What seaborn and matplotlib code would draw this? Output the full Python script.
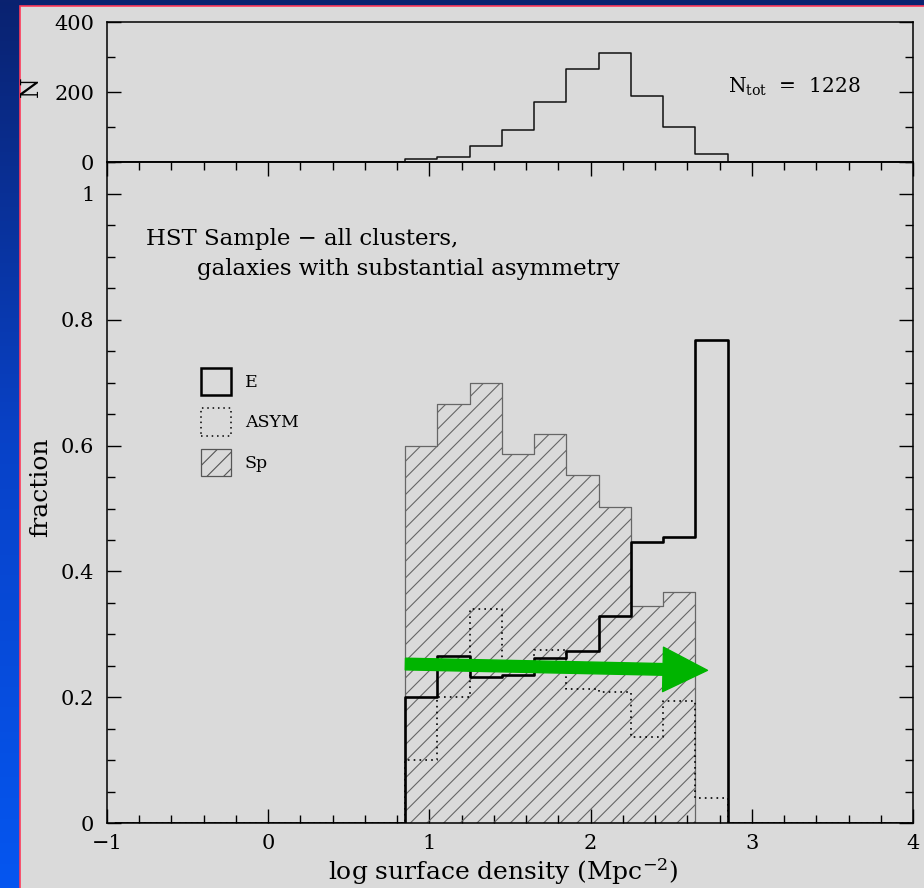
import numpy as np
import pandas as pd
import matplotlib
matplotlib.use("Agg")
import matplotlib.pyplot as plt
import seaborn as sns
from matplotlib.colors import LinearSegmentedColormap
from matplotlib.patches import Rectangle, Patch
from matplotlib.ticker import MultipleLocator, FuncFormatter

# bin centres of log surface density (bins 0.2 dex wide, 0.85 .. 2.85)
log_density = [0.95, 1.15, 1.35, 1.55, 1.75, 1.95, 2.15, 2.35, 2.55, 2.75]
n_gal = [9, 15, 47, 91, 172, 266, 313, 188, 102, 25]
frac_e = [0.200, 0.265, 0.233, 0.235, 0.262, 0.274, 0.330, 0.447, 0.455, 0.768]
frac_asym = [0.100, 0.200, 0.340, 0.255, 0.275, 0.214, 0.208, 0.137, 0.194, 0.040]
frac_sp = [0.600, 0.666, 0.700, 0.587, 0.618, 0.554, 0.502, 0.345, 0.368, 0.000]
n_tot = 1228

sns.set_theme(style="ticks")
plt.rcParams["font.family"] = ["DejaVu Serif", "DejaVu Sans"]
plt.rcParams["mathtext.fontset"] = "dejavuserif"
plt.rcParams["hatch.linewidth"] = 0.8
plt.rcParams["hatch.color"] = "#444444"
for k in ("text.color", "axes.labelcolor", "xtick.color", "ytick.color"):
    plt.rcParams[k] = "black"

df = pd.DataFrame({"logd": log_density, "N": n_gal, "E": frac_e,
                   "ASYM": frac_asym, "Sp": frac_sp})
edges = [round(v, 2) for v in np.arange(-0.95, 4.06, 0.2)]

W, H = 924, 888
fig = plt.figure(figsize=(W / 100, H / 100), dpi=100)

# slide background: blue gradient + grey panel with red rim
bg = fig.add_axes([0, 0, 1, 1], zorder=-10)
cmap = LinearSegmentedColormap.from_list("bg", ["#0a2270", "#0842c8", "#0556f0"])
bg.imshow(np.linspace(0, 1, 256)[:, None], aspect="auto", cmap=cmap,
          extent=[0, 1, 0, 1], origin="upper")
bg.add_patch(Rectangle((20 / W, -0.01), 1, 1 - 6 / H + 0.01, transform=bg.transAxes,
                       facecolor="#dadada", edgecolor="#ff3a5a", lw=1.2))
bg.set_xlim(0, 1)
bg.set_ylim(0, 1)
bg.axis("off")

left, right = 107 / W, 913 / W
y_mid = 1 - 162.3 / H
ax_top = fig.add_axes([left, y_mid, right - left, (162.3 - 22) / H])
ax = fig.add_axes([left, 1 - 823.3 / H, right - left, (823.3 - 162.3) / H])
for a in (ax_top, ax):
    a.set_facecolor("none")
    for s in a.spines.values():
        s.set_linewidth(1.1)
        s.set_color("black")

# top: number of galaxies
sns.histplot(data=df, x="logd", weights="N", bins=edges, element="step",
             fill=False, color="#111111", linewidth=1.1, ax=ax_top)
ax_top.set_xlim(-1, 4)
ax_top.set_ylim(0, 400)
ax_top.yaxis.set_major_locator(MultipleLocator(200))
ax_top.yaxis.set_minor_locator(MultipleLocator(100))
ax_top.tick_params(axis="x", which="both", bottom=False, top=False, labelbottom=False)
ax_top.tick_params(axis="y", which="both", direction="in", left=True, right=True,
                   width=1, labelsize=15, pad=9)
ax_top.tick_params(axis="y", which="major", length=10)
ax_top.tick_params(axis="y", which="minor", length=5.5)
ax_top.set_xlabel("")
ax_top.set_ylabel("N", fontsize=17)
ax_top.yaxis.set_label_coords(-0.079, 0.54)
ax_top.text(2.85, 215, r"N$_{\rm tot}$  =  " + str(n_tot), fontsize=14.5, va="center")

# bottom: morphological fractions
sns.histplot(data=df, x="logd", weights="Sp", bins=edges, element="step",
             fill=True, color="#666666", facecolor="none", hatch="//",
             linewidth=0.9, ax=ax)
sns.histplot(data=df, x="logd", weights="ASYM", bins=edges, element="step",
             fill=False, color="black", linewidth=1.2, linestyle=(0, (1, 2.5)), ax=ax)
sns.histplot(data=df, x="logd", weights="E", bins=edges, element="step",
             fill=False, color="black", linewidth=1.9, ax=ax)

ax.annotate("", xy=(2.725, 0.243), xytext=(0.851, 0.253),
            arrowprops=dict(arrowstyle="simple,head_length=32,head_width=32,tail_width=8.4",
                            mutation_scale=1, color="#00b400", shrinkA=0, shrinkB=0),
            zorder=10)

ax.set_xlim(-1, 4)
ax.set_ylim(0, 1.05)
ax.xaxis.set_major_locator(MultipleLocator(1))
ax.xaxis.set_minor_locator(MultipleLocator(0.2))
ax.yaxis.set_major_locator(MultipleLocator(0.2))
ax.yaxis.set_minor_locator(MultipleLocator(0.05))
fmt = FuncFormatter(lambda v, p: f"{v:g}".replace("-", "\u2212"))
ax.xaxis.set_major_formatter(fmt)
ax.yaxis.set_major_formatter(fmt)
ax.tick_params(which="both", direction="in", top=True, right=True, width=1,
               labelsize=15)
ax.tick_params(which="major", length=10)
ax.tick_params(which="minor", length=5.5)
ax.tick_params(axis="x", pad=8)
ax.tick_params(axis="y", pad=9)

ax.set_xlabel(r"log surface density (Mpc$^{-2}$)", fontsize=18)
ax.xaxis.set_label_coords(0.491, -0.05)
ax.set_ylabel("fraction", fontsize=18)
ax.yaxis.set_label_coords(-0.068, 0.509)

ax.text(-0.76, 0.928, "HST Sample \u2212 all clusters,", fontsize=16.5, va="center")
ax.text(-0.44, 0.881, "galaxies with substantial asymmetry", fontsize=16.5, va="center")

handles = [
    Patch(facecolor="none", edgecolor="black", linewidth=1.8, label="E"),
    Patch(facecolor="none", edgecolor="black", linewidth=1.1, linestyle=(0, (1, 2.5)),
          label="ASYM"),
    Patch(facecolor="none", edgecolor="#555555", linewidth=0.9, hatch="//", label="Sp"),
]
ax.legend(handles=handles, loc="upper left", bbox_to_anchor=(0.117, 0.689),
          frameon=False, fontsize=12.5, handlelength=1.7, handleheight=2.05,
          handletextpad=0.8, labelspacing=0.75, borderpad=0, borderaxespad=0)

fig.savefig("out.png", dpi=100)
